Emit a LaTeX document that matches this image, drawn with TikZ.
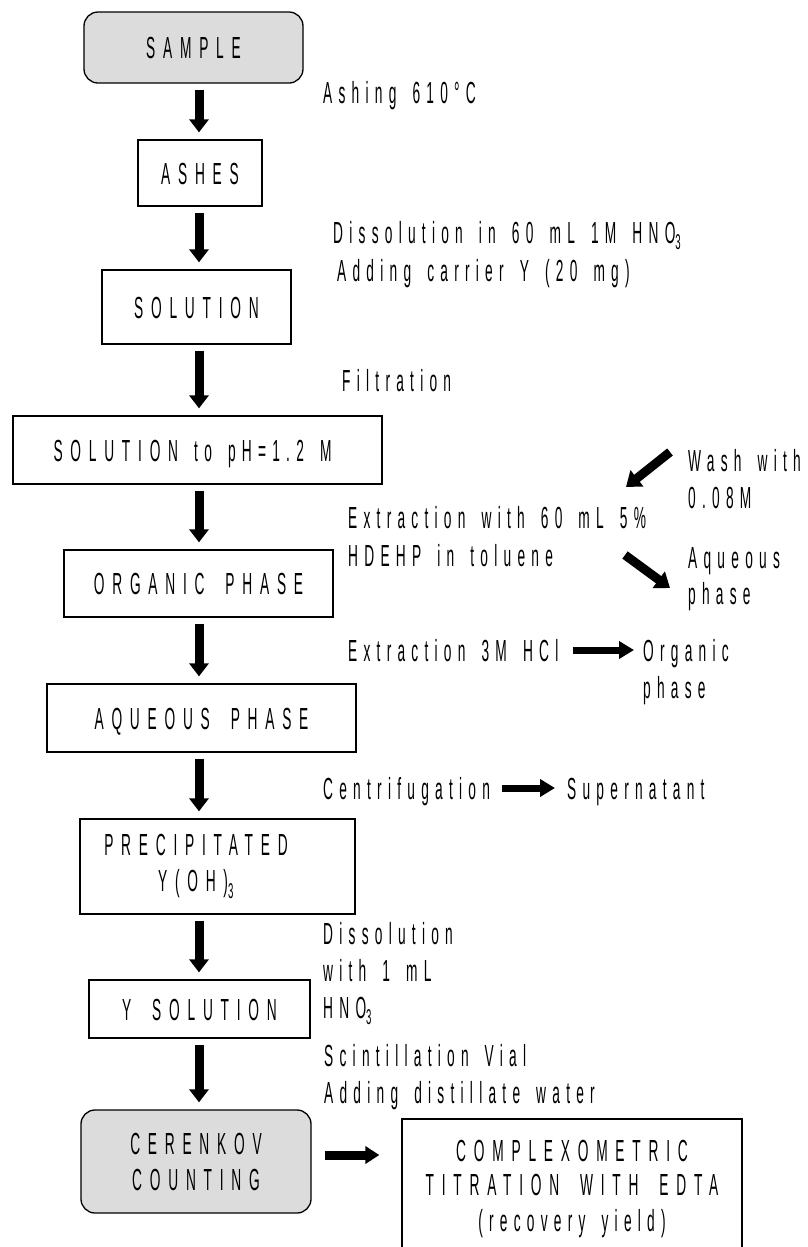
\documentclass[tikz,border=0pt]{standalone}
\usepackage{fontspec}
\setmainfont{Liberation Sans}[FakeStretch=0.45,LetterSpace=20.5,WordSpace=1.6]
\newfontfamily\boxfont{Liberation Sans}[FakeStretch=0.45,LetterSpace=25.5,WordSpace=1.8]
\usetikzlibrary{arrows.meta,calc}
\definecolor{boxgray}{HTML}{DCDCDC}
\tikzset{
  basefont/.style={font=\fontsize{30.5bp}{37bp}\selectfont},
  boxtext/.style={font=\fontsize{30.5bp}{36bp}\boxfont},
  box/.style={boxtext, draw=black, line width=1.3bp, rectangle, inner sep=0pt, align=center},
  oneline/.style={text height=22bp, text depth=0bp},
  rbox/.style={box, rounded corners=14bp, fill=boxgray},
  txt/.style={basefont, anchor=west, inner sep=0pt, text height=22bp, text depth=0bp},
  varrow/.style={line width=9bp, -{Triangle[length=13bp,width=19bp]}, shorten <=6bp, shorten >=7bp},
  harrow/.style={line width=7bp, -{Triangle[length=15bp,width=17bp]}},
  darrow/.style={line width=9bp, -{Triangle[length=14bp,width=20bp]}},
}
\begin{document}
\begin{tikzpicture}[x=1bp,y=-1bp]
\useasboundingbox (0,0) rectangle (808,1247);
\coordinate (ax) at (199,0);
% boxes
\node[rbox, oneline, minimum width=219bp, minimum height=71bp] (sample) at (193.5,47.5) {SAMPLE};
\node[box, oneline, minimum width=124bp, minimum height=66bp] (ashes) at (200,173) {ASHES};
\node[box, oneline, minimum width=189bp, minimum height=74bp] (sol) at (196.5,307) {SOLUTION};
\node[box, oneline, minimum width=369bp, minimum height=68bp] (ph) at (197.5,450) {SOLUTION{\rmfamily\ to pH=1.2 M}\hspace*{10bp}};
\node[box, oneline, minimum width=269bp, minimum height=67bp] (org) at (198.5,583.5) {ORGANIC PHASE};
\node[box, oneline, minimum width=309bp, minimum height=68bp] (aqp) at (201.5,718) {AQUEOUS PHASE};
\node[box, minimum width=275bp, minimum height=95bp,
      label={[name=preT, boxtext, align=center, inner sep=0pt, xshift=-21.5bp]center:PRECIPITATED\\Y(OH)\textsubscript{3}}] (pre) at (217.5,866.5) {};
\node[box, oneline, minimum width=221bp, minimum height=58bp] (ysol) at (199.5,1009) {Y SOLUTION};
\node[rbox, minimum width=230bp, minimum height=103bp] (cer) at (196,1161.5) {CERENKOV\\COUNTING};
\node[box, minimum width=340bp, minimum height=146bp,
      label={[name=compT, boxtext, align=center, inner sep=0pt, anchor=north, yshift=-22bp]north:COMPLEXOMETRIC\\[-2bp]TITRATION WITH EDTA\\{\rmfamily(recovery yield)}}] (comp) at (572,1192) {};
% side texts
\node[txt] (ash) at (323,92) {Ashing 610°C};
\node[txt] (dis1) at (333,232) {Dissolution in 60 mL 1M HNO\textsubscript{3}};
\node[txt] (dis2) at (337,270) {Adding carrier Y (20 mg)};
\node[txt] (filt) at (342,380) {Filtration};
\node[txt] (ext1) at (348,517) {Extraction with 60 mL 5\%};
\node[txt] (ext2) at (348,555) {HDEHP in toluene};
\node[txt] (wash1) at (688,460) {Wash with};
\node[txt] (wash2) at (688,497) {0.08M};
\node[txt] (aq1) at (688,557) {Aqueous};
\node[txt] (aq2) at (688,593) {phase};
\node[txt] (ex3) at (348,650) {Extraction 3M HCl};
\node[txt] (org1) at (643,650) {Organic};
\node[txt] (org2) at (643,687) {phase};
\node[txt] (cen) at (323,788) {Centrifugation};
\node[txt] (sup) at (567,788) {Supernatant};
\node[txt] (d1) at (323,933) {Dissolution};
\node[txt] (d2) at (323,970) {with 1 mL};
\node[txt] (d3) at (323,1007) {HNO\textsubscript{3}};
\node[txt] (sc1) at (324,1055) {Scintillation Vial};
\node[txt] (sc2) at (324,1092) {Adding distillate water};
% vertical arrows
\draw[varrow] (sample.south -| ax) -- (ashes.north -| ax);
\draw[varrow] (ashes.south -| ax) -- (sol.north -| ax);
\draw[varrow] (sol.south -| ax) -- (ph.north -| ax);
\draw[varrow] (ph.south -| ax) -- (org.north -| ax);
\draw[varrow] (org.south -| ax) -- (aqp.north -| ax);
\draw[varrow] (aqp.south -| ax) -- (pre.north -| ax);
\draw[varrow] (pre.south -| ax) -- (ysol.north -| ax);
\draw[varrow] (ysol.south -| ax) -- (cer.north -| ax);
% side arrows
\draw[harrow, shorten <=14bp, shorten >=9bp] (ex3.east) -- (ex3.east -| org1.west);
\draw[harrow, shorten <=12bp, shorten >=12bp] (cen.east) -- (cen.east -| sup.west);
\draw[darrow] ($(wash1.west)+(-18,-8)$) -- ($(wash1.west)+(-62,27)$);
\draw[darrow] ($(aq1.west)+(-63,-2)$) -- ($(aq1.west)+(-18,31)$);
\draw[line width=9bp, -{Triangle[length=14bp,width=17bp]}, shorten <=13bp, shorten >=22bp]
  ([yshift=6.5bp]cer.east) -- ([yshift=6.5bp]cer.east -| comp.west);
\end{tikzpicture}
\end{document}
